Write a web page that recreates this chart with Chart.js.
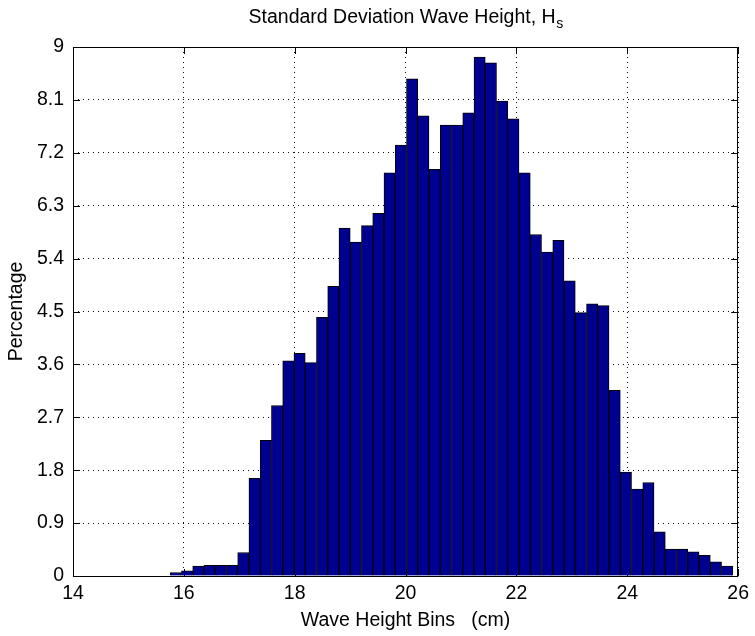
<!DOCTYPE html>
<html><head><meta charset="utf-8">
<script src="https://cdn.jsdelivr.net/npm/chart.js@4/dist/chart.umd.min.js"></script>
<style>html,body{margin:0;padding:0;background:#fff;} canvas{display:block;}</style>
</head><body>
<canvas id="c" width="755" height="636"></canvas>
<script>
// ---- data ----
const binCenters = [15.855, 16.058, 16.261, 16.464, 16.667, 16.870, 17.073, 17.276, 17.479, 17.682,
  17.885, 18.088, 18.291, 18.494, 18.697, 18.900, 19.103, 19.306, 19.509, 19.712,
  19.915, 20.118, 20.321, 20.524, 20.727, 20.930, 21.133, 21.336, 21.539, 21.742,
  21.945, 22.148, 22.351, 22.554, 22.757, 22.960, 23.163, 23.366, 23.569, 23.772,
  23.975, 24.178, 24.381, 24.584, 24.787, 24.990, 25.193, 25.396, 25.599, 25.802];
const percentages = [0.06, 0.09, 0.17, 0.18, 0.18, 0.18, 0.40, 1.66, 2.31, 2.90,
  3.66, 3.79, 3.63, 4.40, 4.93, 5.92, 5.68, 5.96, 6.17, 6.86,
  7.33, 8.46, 7.83, 6.92, 7.67, 7.67, 7.88, 8.83, 8.73, 8.08,
  7.78, 6.86, 5.81, 5.51, 5.71, 5.02, 4.48, 4.63, 4.60, 3.16,
  1.77, 1.48, 1.59, 0.75, 0.46, 0.46, 0.41, 0.35, 0.24, 0.17];
const xTickValues = [14, 16, 18, 20, 22, 24, 26];
const yTickValues = [0, 0.9, 1.8, 2.7, 3.6, 4.5, 5.4, 6.3, 7.2, 8.1, 9];
const yTickLabels = ['0', '0.9', '1.8', '2.7', '3.6', '4.5', '5.4', '6.3', '7.2', '8.1', '9'];
const titleMain = 'Standard Deviation Wave Height, H';
const titleSub = 's';
const xLabel = 'Wave Height Bins   (cm)';
const yLabel = 'Percentage';

const FONT = '"Liberation Sans", Arial, Helvetica, sans-serif';
const FS = 19.5;

const frame = {
  id: 'frame',
  beforeDatasetsDraw(chart) {
    const {ctx, chartArea: a, scales: {x, y}} = chart;
    const L = 7;
    ctx.save();
    ctx.strokeStyle = '#000';
    ctx.lineWidth = 1;
    ctx.beginPath();
    x.ticks.forEach(t => {
      const px = Math.round(x.getPixelForValue(t.value)) + 0.5;
      ctx.moveTo(px, a.bottom); ctx.lineTo(px, a.bottom - L);
      ctx.moveTo(px, a.top); ctx.lineTo(px, a.top + L);
    });
    y.ticks.forEach(t => {
      const py = Math.round(y.getPixelForValue(t.value)) + 0.5;
      ctx.moveTo(a.left, py); ctx.lineTo(a.left + L, py);
      ctx.moveTo(a.right, py); ctx.lineTo(a.right - L, py);
    });
    ctx.stroke();
    ctx.restore();
  },
  afterDraw(chart) {
    const {ctx, chartArea: a} = chart;
    ctx.save();
    ctx.strokeStyle = '#000';
    ctx.lineWidth = 1;
    ctx.strokeRect(Math.round(a.left) + 0.5, Math.round(a.top) + 0.5,
                   Math.round(a.right - a.left) - 1, Math.round(a.bottom - a.top));
    // title with subscript
    ctx.fillStyle = '#000';
    ctx.textBaseline = 'alphabetic';
    ctx.textAlign = 'left';
    const mainFont = FS + 'px ' + FONT;
    const subFont = '14px ' + FONT;
    ctx.font = mainFont;
    const w1 = ctx.measureText(titleMain).width;
    ctx.font = subFont;
    const w2 = ctx.measureText(titleSub).width;
    const cx = (a.left + a.right) / 2;
    const x0 = cx - (w1 + w2) / 2;
    const base = 23;
    ctx.font = mainFont;
    ctx.fillText(titleMain, x0, base);
    ctx.font = subFont;
    ctx.fillText(titleSub, x0 + w1 + 0.5, base + 5);
    ctx.restore();
  }
};

new Chart(document.getElementById('c'), {
  type: 'bar',
  data: {
    datasets: [{
      data: binCenters.map((c, i) => ({x: c, y: percentages[i]})),
      backgroundColor: '#000090',
      borderColor: '#000',
      borderWidth: {top: 1, left: 1, right: 1, bottom: 0},
      borderSkipped: false,
      barPercentage: 1,
      categoryPercentage: 1
    }]
  },
  options: {
    responsive: false,
    animation: false,
    devicePixelRatio: 1,
    layout: {padding: {left: 0, right: 12, top: 47, bottom: 0}},
    plugins: {legend: {display: false}, tooltip: {enabled: false}, title: {display: false}},
    scales: {
      x: {
        type: 'linear', min: 14, max: 26, offset: false,
        afterBuildTicks: s => { s.ticks = xTickValues.map(v => ({value: v})); },
        afterFit: s => { s.height = 60; },
        grid: {color: '#111', lineWidth: 1, drawTicks: false, offset: false},
        border: {display: false, dash: [1, 4]},
        ticks: {color: '#000', font: {family: FONT, size: FS}, padding: 6, maxRotation: 0, autoSkip: false},
        title: {display: true, text: xLabel, color: '#000', font: {family: FONT, size: FS}, padding: {top: 0, bottom: 4}}
      },
      y: {
        min: 0, max: 9,
        afterBuildTicks: s => { s.ticks = yTickValues.map(v => ({value: v})); },
        afterFit: s => { s.width = 73; },
        grid: {color: '#111', lineWidth: 1, drawTicks: false},
        border: {display: false, dash: [1, 4]},
        ticks: {
          color: '#000', font: {family: FONT, size: FS}, padding: 9,
          callback: (v) => { const i = yTickValues.indexOf(v); return i >= 0 ? yTickLabels[i] : ''; }
        },
        title: {display: true, text: yLabel, color: '#000', font: {family: FONT, size: FS}, padding: {top: 5, bottom: 0}}
      }
    }
  },
  plugins: [frame]
});
</script>
</body></html>
